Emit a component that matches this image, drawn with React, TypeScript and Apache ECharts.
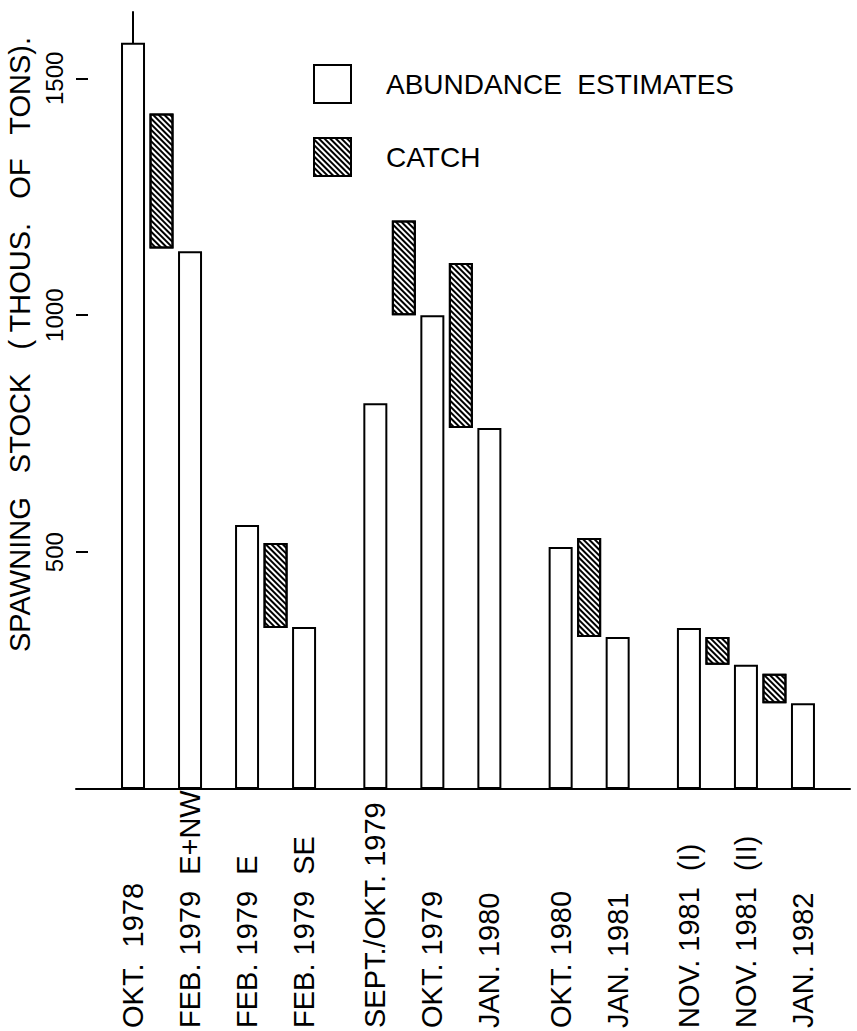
import React, { useEffect, useRef } from "react";
import * as echarts from "echarts";

// Survey labels (x axis), in time order
const categories = [
  "OKT.  1978",
  "FEB. 1979  E+NW",
  "FEB. 1979  E",
  "FEB. 1979  SE",
  "SEPT./OKT. 1979",
  "OKT. 1979",
  "JAN. 1980",
  "OKT. 1980",
  "JAN. 1981",
  "NOV. 1981  (I)",
  "NOV. 1981  (II)",
  "JAN. 1982",
];
// Abundance estimates of the spawning stock (thousand tons)
const abundance = [1575, 1135, 557, 342, 814, 1000, 762, 511, 321, 340, 262, 181];
// Catch taken between survey i and survey i+1 (index of the earlier survey)
const catchAfter = [0, 2, 4, 5, 7, 9, 10];
const catchLow = [1141, 340, 1000, 762, 321, 262, 181];
const catchHigh = [1426, 519, 1200, 1110, 530, 321, 243];
// Surveys that start a new season (drawn after a slightly wider gap)
const seasonStarts = [4, 7, 9];
// Y axis tick values
const yTicks = [500, 1000, 1500];

const FONT = "'Liberation Sans', Arial, Helvetica, sans-serif";
const X_MIN = -2;
const X_MAX = 25.15;
const TICK_LEN = 0.42; // inner tick length in x-axis units (~12px)

const pos = (i: number) => 2 * i + 0.5 * seasonStarts.filter((s) => s <= i).length;

export default function App() {
  const ref = useRef<HTMLDivElement>(null);
  useEffect(() => {
    if (!ref.current) return;
    const chart = echarts.init(ref.current, undefined, { renderer: "svg" });
    const positions = categories.map((_, i) => pos(i));
    const decal = {
      symbol: "rect",
      symbolSize: 1,
      color: "#000",
      backgroundColor: "#fff",
      dashArrayX: [1, 0],
      dashArrayY: [2, 2],
      rotation: Math.PI / 4,
    };
    chart.setOption({
      animation: false,
      backgroundColor: "#fff",
      textStyle: { fontFamily: FONT, color: "#000" },
      grid: { left: 76, right: 7, top: 12, bottom: 242, containLabel: false, outerBoundsMode: "none" },
      legend: {
        orient: "vertical",
        left: 313,
        top: 64,
        padding: 0,
        itemWidth: 37,
        itemHeight: 38,
        itemGap: 33,
        icon: "rect",
        data: ["ABUNDANCE ESTIMATES", "CATCH"],
        formatter: (n: string) => n.replace(" ", "  "),
        textStyle: { fontSize: 28, color: "#000", fontFamily: FONT, padding: [0, 0, 0, 30] },
      },
      xAxis: {
        type: "value",
        min: X_MIN,
        max: X_MAX,
        splitLine: { show: false },
        axisLine: { show: true, onZero: false, lineStyle: { color: "#000", width: 2 } },
        axisTick: { show: false },
        axisLabel: {
          customValues: positions,
          formatter: (v: number) => {
            const k = positions.findIndex((p) => Math.abs(p - v) < 1e-6);
            return k >= 0 ? categories[k] : "";
          },
          rotate: 90,
          align: "left",
          margin: 239,
          fontSize: 29,
          color: "#000",
          fontFamily: FONT,
        },
      },
      yAxis: {
        type: "value",
        min: 0,
        max: 1640,
        splitLine: { show: false },
        axisLine: { show: true, lineStyle: { color: "#000", width: 2 } },
        axisTick: { show: false },
        axisLabel: {
          customValues: yTicks,
          formatter: (v: number) => String(v),
          rotate: 90,
          margin: 10,
          fontSize: 24,
          color: "#000",
          fontFamily: FONT,
        },
        name: "SPAWNING   STOCK   ( THOUS.   OF   TONS).",
        nameLocation: "middle",
        nameRotate: 90,
        nameGap: 36,
        nameTextStyle: { fontSize: 29, color: "#000", fontFamily: FONT, padding: [0, 0, 0, 112] },
      },
      series: [
        {
          type: "bar",
          name: "ABUNDANCE ESTIMATES",
          data: abundance.map((v, i) => [v, positions[i]]),
          encode: { x: 1, y: 0 },
          barWidth: 24,
          barGap: "-100%",
          itemStyle: { color: "#fff", borderColor: "#000", borderWidth: 2 },
          markLine: {
            silent: true,
            symbol: "none",
            label: { show: false },
            lineStyle: { color: "#000", width: 2, type: "solid" },
            data: yTicks.map((v) => [{ coord: [X_MIN, v] }, { coord: [X_MIN + TICK_LEN, v] }]),
          },
        },
        {
          type: "bar",
          name: "catch base",
          stack: "c",
          silent: true,
          data: catchAfter.map((a, k) => [catchLow[k], pos(a) + 1]),
          encode: { x: 1, y: 0 },
          barWidth: 24,
          barGap: "-100%",
          itemStyle: { color: "transparent", borderWidth: 0 },
        },
        {
          type: "bar",
          name: "CATCH",
          stack: "c",
          data: catchAfter.map((a, k) => [catchHigh[k] - catchLow[k], pos(a) + 1]),
          encode: { x: 1, y: 0 },
          barWidth: 24,
          barGap: "-100%",
          itemStyle: { color: "#fff", borderColor: "#000", borderWidth: 2, decal },
        },
      ],
    });
    return () => chart.dispose();
  }, []);
  return (
    <div
      ref={ref}
      style={{ position: "absolute", left: 0, top: 0, width: 857, height: 1031, background: "#fff" }}
    />
  );
}
